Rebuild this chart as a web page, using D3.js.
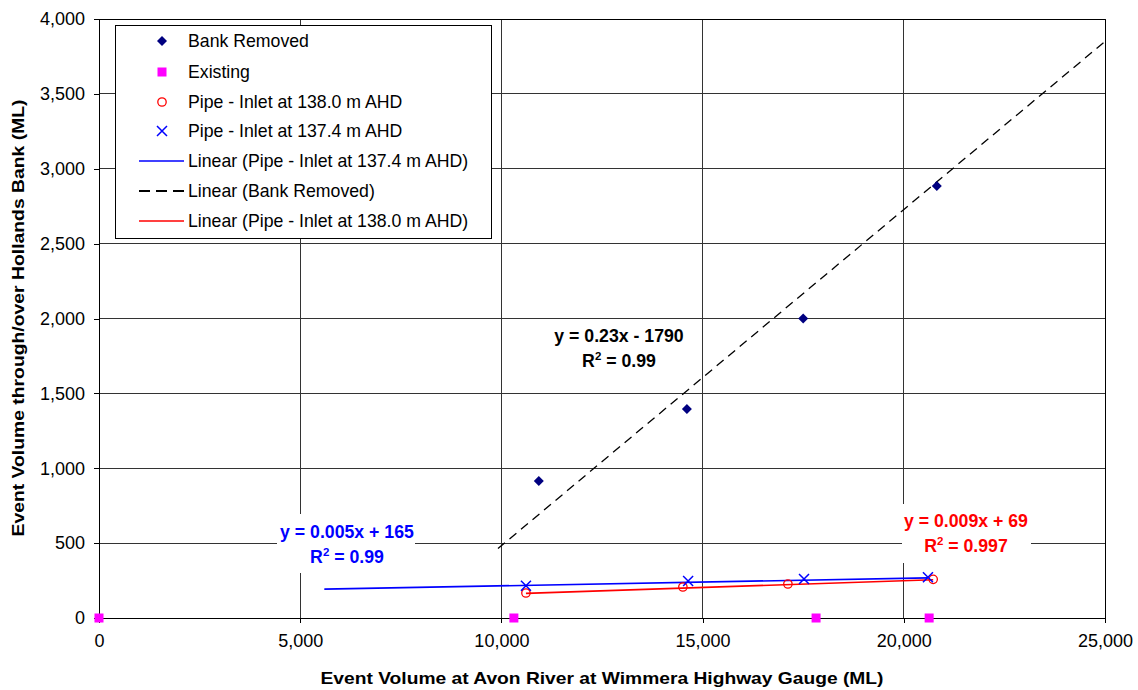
<!DOCTYPE html>
<html>
<head>
<meta charset="utf-8">
<script src="https://cdn.jsdelivr.net/npm/d3@7"></script>
<style>
  body { margin: 0; background: #fff; }
  svg { display: block; font-family: "Liberation Sans", Arial, sans-serif; }
</style>
</head>
<body>
<svg id="chart" width="1138" height="690"></svg>
<script>
// Data
const bankX = [10930, 14610, 17500, 20820];
const bankY = [915, 1395, 2000, 2885];
const existingX = [0, 10310, 17820, 20630];
const existingY = [0, 0, 0, 0];
const pipe138X = [10610, 14510, 17120, 20730];
const pipe138Y = [167, 207, 227, 258];
const pipe137X = [10610, 14640, 17520, 20600];
const pipe137Y = [215, 247, 260, 272];

// trendlines: [slope, intercept, xStart, xEnd]
const trendBank = [0.2245, -1762, 9915, 25000];
const trend137 = [0.005, 165, 5600, 20600];
const trend138 = [0.009, 69, 10610, 20730];

const xTicks = [0, 5000, 10000, 15000, 20000, 25000];
const yTicks = [0, 500, 1000, 1500, 2000, 2500, 3000, 3500, 4000];

const legendLabels = [
  'Bank Removed', 'Existing', 'Pipe - Inlet at 138.0 m AHD', 'Pipe - Inlet at 137.4 m AHD',
  'Linear (Pipe - Inlet at 137.4 m AHD)', 'Linear (Bank Removed)', 'Linear (Pipe - Inlet at 138.0 m AHD)'
];

const NAVY = '#000080', MAGENTA = '#ff00ff', RED = '#ff0000', BLUE = '#0000ff';

const svg = d3.select('#chart');
const L = 99, R = 1105, T = 19, B = 618;

const x = d3.scaleLinear().domain([0, 25000]).range([L, R]);
const y = d3.scaleLinear().domain([0, 4000]).range([B, T]);

// gridlines
const grid = svg.append('g');
grid.selectAll('.gx').data(xTicks.slice(1)).join('line')
  .attr('x1', d => x(d)).attr('x2', d => x(d)).attr('y1', T).attr('y2', B)
  .attr('stroke', '#333').attr('shape-rendering', 'crispEdges');
grid.selectAll('.gy').data(yTicks.slice(1)).join('line')
  .attr('x1', L).attr('x2', R).attr('y1', d => y(d)).attr('y2', d => y(d))
  .attr('stroke', '#333').attr('shape-rendering', 'crispEdges');

// axes
const xAxis = svg.append('g').attr('transform', `translate(0,${B})`)
  .call(d3.axisBottom(x).tickValues(xTicks).tickFormat(d3.format(',')).tickSizeOuter(0).tickSize(5).tickPadding(11));
const yAxis = svg.append('g').attr('transform', `translate(${L},0)`)
  .call(d3.axisLeft(y).tickValues(yTicks).tickFormat(d3.format(',')).tickSizeOuter(0).tickSize(5).tickPadding(9));
[xAxis, yAxis].forEach(a => {
  a.selectAll('path,line').attr('stroke', '#000').attr('shape-rendering', 'crispEdges');
  a.selectAll('text').attr('font-size', 18).attr('fill', '#000')
    .attr('font-family', '"Liberation Sans", Arial, sans-serif');
});

// axis titles
svg.append('text').attr('x', 602).attr('y', 684).attr('text-anchor', 'middle')
  .attr('font-size', 16.5).attr('font-weight', 'bold')
  .attr('textLength', 563).attr('lengthAdjust', 'spacingAndGlyphs')
  .text('Event Volume at Avon River at Wimmera Highway Gauge (ML)');
svg.append('text').attr('transform', 'translate(24,318) rotate(-90)').attr('text-anchor', 'middle')
  .attr('font-size', 16.5).attr('font-weight', 'bold')
  .attr('textLength', 437).attr('lengthAdjust', 'spacingAndGlyphs')
  .text('Event Volume through/over Hollands Bank (ML)');

// trendlines
const trendLine = (t, color, dash, width) => {
  svg.append('line')
    .attr('x1', x(t[2])).attr('y1', y(t[0] * t[2] + t[1]))
    .attr('x2', x(t[3])).attr('y2', y(t[0] * t[3] + t[1]))
    .attr('stroke', color).attr('stroke-width', width)
    .attr('stroke-dasharray', dash);
};
trendLine(trendBank, '#000', '9,6', 1.3);
trendLine(trend137, BLUE, null, 1.6);
trendLine(trend138, RED, null, 1.6);

// markers
const diamond = (g, cx, cy) => g.append('path')
  .attr('d', `M${cx},${cy - 5}L${cx + 5},${cy}L${cx},${cy + 5}L${cx - 5},${cy}Z`).attr('fill', NAVY);
const square = (g, cx, cy) => g.append('rect')
  .attr('x', cx - 4.5).attr('y', cy - 4.5).attr('width', 9).attr('height', 9).attr('fill', MAGENTA);
const circle = (g, cx, cy) => g.append('circle')
  .attr('cx', cx).attr('cy', cy).attr('r', 4.2).attr('fill', 'none').attr('stroke', RED).attr('stroke-width', 1.3);
const cross = (g, cx, cy) => g.append('path')
  .attr('d', `M${cx - 5},${cy - 5}L${cx + 5},${cy + 5}M${cx - 5},${cy + 5}L${cx + 5},${cy - 5}`)
  .attr('stroke', BLUE).attr('stroke-width', 1.5).attr('fill', 'none');

const marks = svg.append('g');
bankX.forEach((v, i) => diamond(marks, x(v), y(bankY[i])));
existingX.forEach((v, i) => square(marks, x(v), y(existingY[i])));
pipe138X.forEach((v, i) => circle(marks, x(v), y(pipe138Y[i])));
pipe137X.forEach((v, i) => cross(marks, x(v), y(pipe137Y[i])));

// plot border (top/right)
svg.append('path').attr('d', `M${L},${T + 0.5}H${R + 0.5}V${B}`)
  .attr('fill', 'none').attr('stroke', '#000');

// trendline labels
const eqLabel = (cx, by, eq, r2, color, box) => {
  const g = svg.append('g');
  if (box) g.append('rect').attr('x', box[0]).attr('y', box[1]).attr('width', box[2]).attr('height', box[3]).attr('fill', '#fff');
  g.append('text').attr('x', cx).attr('y', by).attr('text-anchor', 'middle')
    .attr('font-size', 17.7).attr('font-weight', 'bold').attr('fill', color).text(eq);
  const t2 = g.append('text').attr('x', cx).attr('y', by + 25).attr('text-anchor', 'middle')
    .attr('font-size', 17.7).attr('font-weight', 'bold').attr('fill', color);
  t2.append('tspan').text('R');
  t2.append('tspan').attr('font-size', 11.5).attr('dy', -7).text('2');
  t2.append('tspan').attr('dy', 7).text(' = ' + r2);
};
eqLabel(619, 342, 'y = 0.23x - 1790', '0.99', '#000', null);
eqLabel(347, 538, 'y = 0.005x + 165', '0.99', BLUE, [277, 514, 138, 59]);
eqLabel(966, 527, 'y = 0.009x + 69', '0.997', RED, [902, 504, 129, 59]);

// legend
const lg = svg.append('g');
lg.append('rect').attr('x', 115.5).attr('y', 25.5).attr('width', 376).attr('height', 213)
  .attr('fill', '#fff').attr('stroke', '#000');
const ly = [41, 72, 102, 131, 161, 191, 221];
legendLabels.forEach((lab, i) => {
  const cy = ly[i];
  if (i === 0) diamond(lg, 162, cy);
  else if (i === 1) square(lg, 162, cy);
  else if (i === 2) circle(lg, 162, cy);
  else if (i === 3) cross(lg, 162, cy);
  else {
    const col = i === 4 ? BLUE : i === 5 ? '#000' : RED;
    lg.append('line').attr('x1', 139).attr('x2', 184).attr('y1', cy).attr('y2', cy)
      .attr('stroke', col).attr('stroke-width', i === 5 ? 1.8 : 1.4)
      .attr('stroke-dasharray', i === 5 ? '11,6' : null);
  }
  lg.append('text').attr('x', 188).attr('y', cy + 6).attr('font-size', 17.7).attr('fill', '#000').text(lab);
});
</script>
</body>
</html>
